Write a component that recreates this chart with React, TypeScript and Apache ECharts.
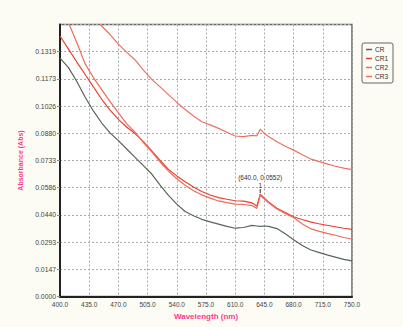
import React, { useEffect, useRef } from "react";
import * as echarts from "echarts";

const wavelengths = [400, 410, 420, 430, 440, 450, 460, 470, 480, 490, 500, 510, 520, 530, 540, 550, 560, 570, 580, 590, 600, 610, 620, 630, 636, 640, 645, 650, 660, 670, 680, 690, 700, 710, 720, 730, 740, 750];

const crValues = [0.1285, 0.1235, 0.1160, 0.1075, 0.1000, 0.0935, 0.0882, 0.0840, 0.0795, 0.0750, 0.0705, 0.0660, 0.0600, 0.0545, 0.0498, 0.0458, 0.0435, 0.0416, 0.0402, 0.0390, 0.0378, 0.0368, 0.0372, 0.0383, 0.0380, 0.0378, 0.0380, 0.0378, 0.0366, 0.0338, 0.0306, 0.0276, 0.0252, 0.0238, 0.0224, 0.0212, 0.0200, 0.0192];

const cr1Values = [0.1404, 0.1335, 0.1265, 0.1198, 0.1130, 0.1063, 0.1005, 0.0955, 0.0912, 0.0878, 0.0835, 0.0785, 0.0733, 0.0685, 0.0650, 0.0618, 0.0590, 0.0566, 0.0547, 0.0533, 0.0524, 0.0516, 0.0514, 0.0505, 0.0488, 0.0552, 0.0530, 0.0510, 0.0476, 0.0452, 0.0430, 0.0415, 0.0402, 0.0392, 0.0384, 0.0376, 0.0368, 0.0362];

const cr2Values = [0.1570, 0.1478, 0.1370, 0.1255, 0.1180, 0.1115, 0.1050, 0.0990, 0.0930, 0.0885, 0.0830, 0.0780, 0.0725, 0.0676, 0.0635, 0.0600, 0.0570, 0.0548, 0.0530, 0.0515, 0.0506, 0.0498, 0.0496, 0.0490, 0.0475, 0.0545, 0.0525, 0.0505, 0.0472, 0.0448, 0.0426, 0.0392, 0.0366, 0.0352, 0.0340, 0.0330, 0.0318, 0.0310];

const cr3Values = [0.1700, 0.1650, 0.1600, 0.1550, 0.1505, 0.1458, 0.1412, 0.1360, 0.1316, 0.1275, 0.1220, 0.1170, 0.1130, 0.1088, 0.1046, 0.1008, 0.0973, 0.0942, 0.0925, 0.0906, 0.0885, 0.0865, 0.0862, 0.0868, 0.0866, 0.0902, 0.0878, 0.0862, 0.0834, 0.0810, 0.0789, 0.0765, 0.0742, 0.0728, 0.0715, 0.0702, 0.0692, 0.0684];

const seriesNames = ["CR", "CR1", "CR2", "CR3"];
const seriesColors = ["#56665a", "#e8422e", "#f06a58", "#f0705e"];
const markerPoint = [640, 0.0552];

const xMin = 400;
const xMax = 750;
const xStep = 35;
const yMin = 0;
const yMax = 0.1466;
const yStep = 0.01466;

export default function App() {
  const ref = useRef<HTMLDivElement>(null);
  useEffect(() => {
    document.body.style.margin = "0";
    const chart = echarts.init(ref.current!, undefined, { renderer: "svg" });
    const allValues = [crValues, cr1Values, cr2Values, cr3Values];
    const series: any[] = allValues.map((vals, i) => ({
      name: seriesNames[i],
      type: "line",
      data: wavelengths.map((w, j) => [w, vals[j]]),
      showSymbol: false,
      symbol: "none",
      lineStyle: { width: 1.2, color: seriesColors[i] },
      itemStyle: { color: seriesColors[i] },
      clip: true,
    }));
    series[1].markPoint = {
      symbol: "rect",
      symbolSize: [1, 4],
      symbolOffset: [0, -3],
      itemStyle: { color: "#333" },
      label: {
        show: true,
        position: "top",
        distance: 0,
        color: "#333",
        fontSize: 6.5,
        fontFamily: "Liberation Sans",
        lineHeight: 8,
        formatter: () => `(${markerPoint[0].toFixed(1)}, ${markerPoint[1].toFixed(4)})\n1`,
      },
      data: [{ coord: markerPoint }],
    };
    chart.setOption({
      animation: false,
      backgroundColor: "#fcfcf4",
      grid: {
        left: 60,
        top: 24.5,
        width: 292,
        height: 272,
        show: true,
        backgroundColor: "#ffffff",
        borderColor: "#666",
        borderWidth: 1.5,
      },
      legend: {
        orient: "vertical",
        left: 362,
        top: 43,
        data: seriesNames,
        icon: "rect",
        itemWidth: 6,
        itemHeight: 1.5,
        itemGap: 2,
        padding: [3, 5, 3, 4],
        borderColor: "#666",
        borderWidth: 1,
        borderRadius: 2,
        backgroundColor: "#fcfcf4",
        textStyle: { fontSize: 6.5, color: "#333", fontFamily: "Liberation Sans", padding: [0, 0, 0, -2] },
      },
      xAxis: {
        type: "value",
        min: xMin,
        max: xMax,
        interval: xStep,
        name: "Wavelength (nm)",
        nameLocation: "middle",
        nameGap: 15,
        nameTextStyle: { color: "#ff3a8a", fontWeight: "bold", fontSize: 8, fontFamily: "Liberation Sans" },
        axisLine: { lineStyle: { color: "#222", width: 2 } },
        axisTick: { show: false },
        axisLabel: {
          fontSize: 6.5,
          color: "#444",
          margin: 4,
          fontFamily: "Liberation Sans",
          formatter: (v: number) => v.toFixed(1),
        },
        splitLine: { show: true, lineStyle: { color: "#aaa", type: [2, 2], width: 1 } },
      },
      yAxis: {
        type: "value",
        min: yMin,
        max: yMax,
        interval: yStep,
        name: "Absorbance (Abs)",
        nameLocation: "middle",
        nameGap: 34,
        nameTextStyle: { color: "#ff3a8a", fontWeight: "bold", fontSize: 7, fontFamily: "Liberation Sans" },
        axisLine: { show: true, lineStyle: { color: "#222", width: 2 } },
        axisTick: { show: true, length: 3, lineStyle: { color: "#888" } },
        axisLabel: {
          fontSize: 6.8,
          color: "#444",
          margin: 4,
          fontFamily: "Liberation Sans",
          showMaxLabel: false,
          formatter: (v: number) => v.toFixed(4),
        },
        splitLine: { show: true, lineStyle: { color: "#aaa", type: [2, 2], width: 1 } },
      },
      series,
    });
    return () => chart.dispose();
  }, []);
  return <div ref={ref} style={{ width: 403, height: 327 }} />;
}
